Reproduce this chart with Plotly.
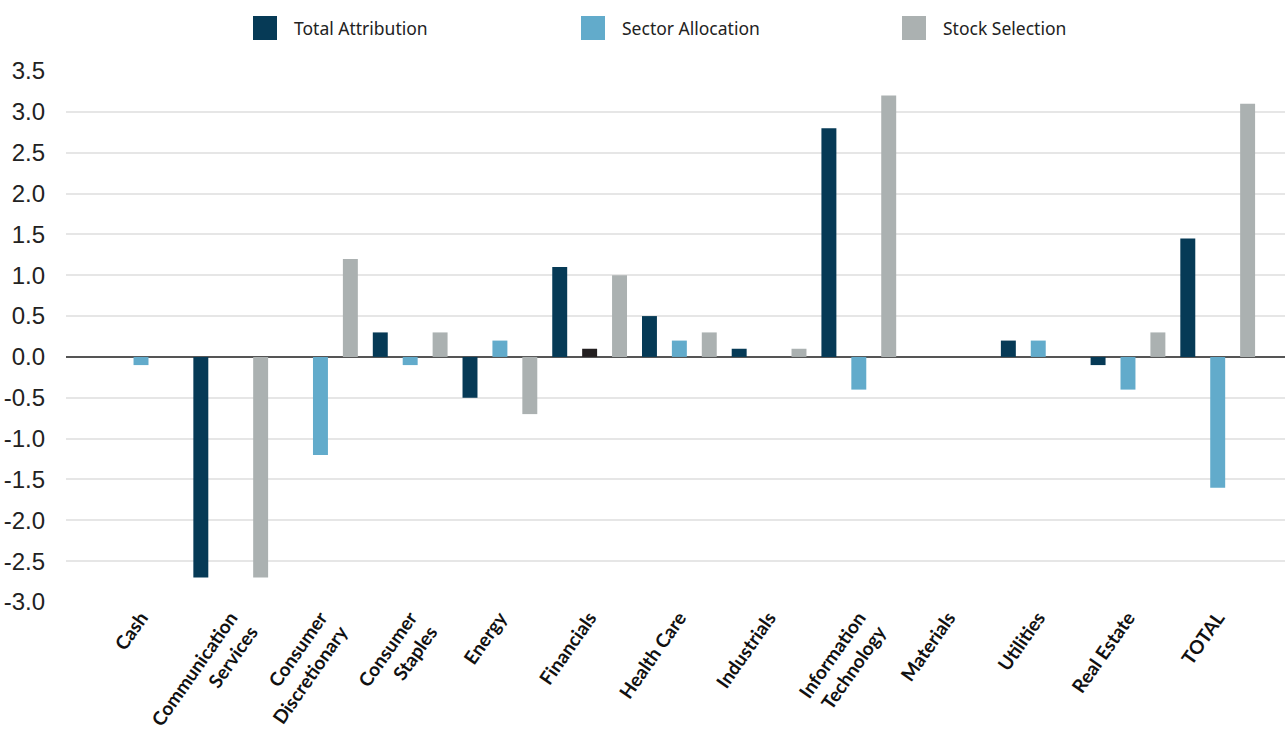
import plotly.graph_objects as go

categories = [
    "Cash", "Communication<br>Services", "Consumer<br>Discretionary",
    "Consumer<br>Staples", "Energy", "Financials", "Health Care",
    "Industrials", "Information<br>Technology", "Materials", "Utilities",
    "Real Estate", "TOTAL",
]
total_attribution = [0.0, -2.7, 0.0, 0.3, -0.5, 1.1, 0.5, 0.1, 2.8, 0.0, 0.2, -0.1, 1.45]
sector_allocation = [-0.1, 0.0, -1.2, -0.1, 0.2, 0.1, 0.2, 0.0, -0.4, 0.0, 0.2, -0.4, -1.6]
stock_selection = [0.0, -2.7, 1.2, 0.3, -0.7, 1.0, 0.3, 0.1, 3.2, 0.0, 0.0, 0.3, 3.1]

series_names = ["Total Attribution", "Sector Allocation", "Stock Selection"]
series_colors = ["#063a56", "#62abcb", "#abb1b1"]
y_ticks = [3.5, 3.0, 2.5, 2.0, 1.5, 1.0, 0.5, 0.0, -0.5, -1.0, -1.5, -2.0, -2.5, -3.0]

W, H = 1285, 749
ML, MR, MT, MB = 66, 0, 71, 147
PW, PH = W - ML - MR, H - MT - MB

# Financials allocation bar is drawn in a darker tone
sa_colors = [series_colors[1]] * len(categories)
sa_colors[categories.index("Financials")] = "#231f20"

fig = go.Figure()
for name, vals, col in zip(series_names,
                           [total_attribution, sector_allocation, stock_selection],
                           [series_colors[0], sa_colors, series_colors[2]]):
    fig.add_trace(go.Bar(
        name=name, x=list(range(len(categories))), y=vals,
        marker=dict(color=col, line=dict(width=0)),
        showlegend=False,
    ))


def px_x(p):
    return (p - ML) / PW


def px_y(p):
    return (H - MB - p) / PH


# Legend: large squares with labels across the top
legend_left = [253, 581, 902]
shapes, annotations = [], []
for name, col, lx in zip(series_names, series_colors, legend_left):
    shapes.append(dict(type="rect", xref="paper", yref="paper",
                       x0=px_x(lx), x1=px_x(lx + 24), y0=px_y(40), y1=px_y(16),
                       fillcolor=col, line=dict(width=0)))
    annotations.append(dict(xref="paper", yref="paper", x=px_x(lx + 39), y=px_y(28),
                            text=name, showarrow=False, xanchor="left", yanchor="middle",
                            font=dict(family="Noto Sans, Inter, sans-serif", size=17.5,
                                      color="#222222")))

fig.update_layout(
    width=W, height=H,
    margin=dict(l=ML, r=MR, t=MT, b=MB, pad=0),
    paper_bgcolor="white", plot_bgcolor="white",
    barmode="group", bargap=0.0, bargroupgap=0.5,
    shapes=shapes, annotations=annotations,
    showlegend=False,
)
fig.update_xaxes(
    range=[-0.836, 12.75],
    tickmode="array", tickvals=list(range(len(categories))), ticktext=categories,
    tickangle=-55, showgrid=False, zeroline=False, showline=False, ticks="",
    tickfont=dict(family="Lato, Noto Sans, sans-serif", size=19, color="#111111",
                  weight=700),
    fixedrange=True,
)
fig.update_yaxes(
    range=[-3.0, 3.5],
    tickmode="array", tickvals=y_ticks, ticktext=[f"{v:.1f}" for v in y_ticks],
    showgrid=True, gridcolor="#e6e6e6", gridwidth=1.5,
    zeroline=True, zerolinecolor="#555555", zerolinewidth=2,
    showline=False, ticks="", ticklabelstandoff=20,
    tickfont=dict(family="Liberation Sans, sans-serif", size=24, color="#222222"),
    fixedrange=True,
)

fig.write_html("out.html")
